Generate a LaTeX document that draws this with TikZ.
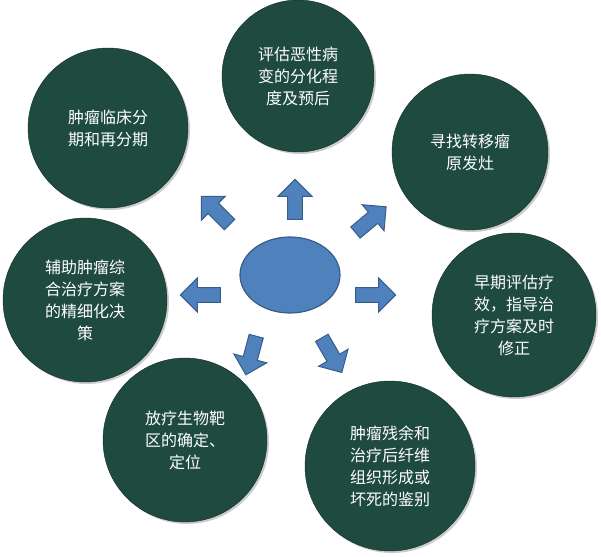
\documentclass[tikz,border=0pt]{standalone}
\usepackage{fontspec}
\setmainfont{Noto Sans CJK SC}
\usetikzlibrary{shapes.arrows,shapes.geometric,shadows}
\definecolor{cg}{HTML}{1E4A40}
\definecolor{eb}{HTML}{4F81BD}
\definecolor{ed}{HTML}{385D8A}
\tikzset{
 circ/.style={circle,fill=cg,draw=cg!60!black,text=white,align=center,font=\fontsize{16}{22}\selectfont,drop shadow={shadow xshift=2pt,shadow yshift=-2pt,opacity=0.4}},
 barrow/.style={single arrow,fill=eb,draw=ed,line width=1pt,minimum height=40pt,minimum width=34pt,single arrow head extend=6pt,inner sep=4pt}
}
\begin{document}
\begin{tikzpicture}[x=1pt,y=-1pt]
\useasboundingbox (0,0) rectangle (601,556);
\node[circ,minimum size=152pt] (a) at (298,76) {评估恶性病\\变的分化程\\度及预后};
\node[circ,minimum size=160pt] (b) at (108,128) {肿瘤临床分\\期和再分期};
\node[circ,minimum size=156pt] (c) at (470,152) {寻找转移瘤\\原发灶};
\node[circ,minimum size=164pt] (d) at (85,300) {辅助肿瘤综\\合治疗方案\\的精细化决\\策};
\node[circ,minimum size=164pt] (e) at (514,315) {早期评估疗\\效，指导治\\疗方案及时\\修正};
\node[circ,minimum size=164pt] (f) at (185,440) {放疗生物靶\\区的确定、\\定位};
\node[circ,minimum size=170pt] (g) at (390,466) {肿瘤残余和\\治疗后纤维\\组织形成或\\坏死的鉴别};
\node[ellipse,fill=eb,draw=ed,line width=1.2pt,minimum width=100pt,minimum height=76pt] (o) at (290,275) {};
\node[barrow,rotate=90] (u) at (295,203) {};
\node[barrow,rotate=135] (ul) at (218,213) {};
\node[barrow,rotate=40] (ur) at (368,222) {};
\node[barrow,rotate=180] (l) at (204,295) {};
\node[barrow,rotate=0] (r) at (372,295) {};
\node[barrow,rotate=-105] (dl) at (252,352) {};
\node[barrow,rotate=-60] (dr) at (330,352) {};
\end{tikzpicture}
\end{document}
